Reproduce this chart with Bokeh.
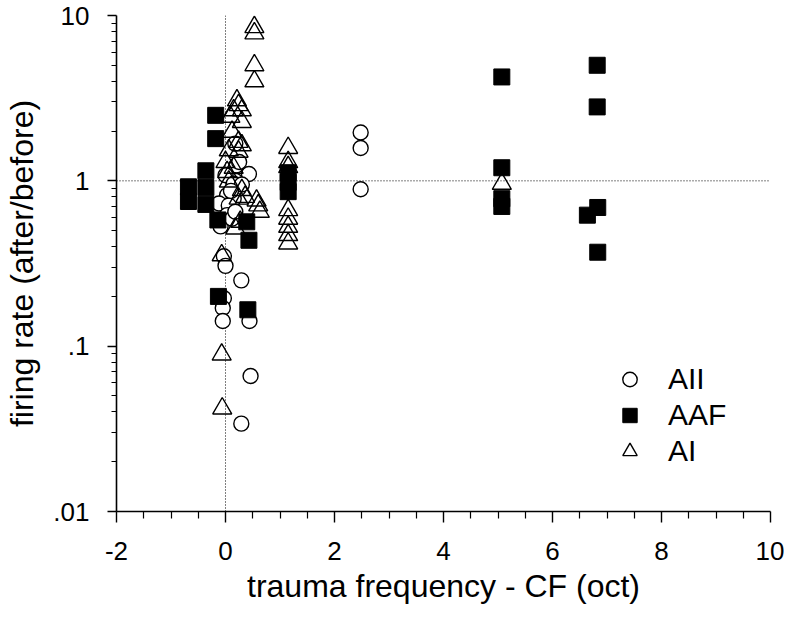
from bokeh.plotting import figure
from bokeh.models import Range1d, FixedTicker, Span, Legend, LegendItem
from bokeh.embed import file_html
from bokeh.resources import INLINE

# ---- data ----
aii_x = [2.48, 2.48, 2.48, 0.43, 0.20, 0.18, 0.24, 0.03, 0.15, 0.18, 0.00, 0.15,
         -0.12, 0.06, -0.09, 0.03, 0.12, 0.18, 0.30, 0.25, 0.10,
         -0.03, 0.00, 0.29, -0.03, -0.05, -0.05, 0.44, 0.46, 0.29]
aii_y = [1.96, 1.58, 0.89, 1.10, 1.24, 1.00, 0.90, 0.82, 0.78, 1.68, 1.08, 0.96,
         0.73, 0.71, 0.53, 0.62, 0.59, 0.65, 0.95, 1.30, 0.87,
         0.35, 0.306, 0.25, 0.195, 0.17, 0.142, 0.142, 0.066, 0.034]

aaf_x = [5.07, 6.82, 6.82, 5.07, 5.07, 5.07, 6.64, 6.83, 6.83,
         1.15, 1.15, 1.15, -0.18, -0.18, -0.68, -0.68, -0.36, -0.36, -0.36,
         -0.14, 0.39, 0.43, -0.13, 0.41]
aaf_y = [4.25, 5.0, 2.8, 1.2, 0.78, 0.70, 0.62, 0.69, 0.37,
         1.12, 0.98, 0.86, 2.49, 1.80, 0.92, 0.75, 1.15, 0.91, 0.72,
         0.58, 0.565, 0.437, 0.20, 0.166]

ai_x = [0.53, 0.53, 0.53, 0.53,
        0.21, 0.24, 0.30, 0.15, 0.30, 0.09, 0.12, 0.24, 0.30, 0.06, 0.24, 0.03,
        0.06, 0.24, 0.30, 0.36, 0.27, 0.18, 0.00, 0.15,
        0.57, 0.60, 0.63,
        1.15, 1.15, 1.15, 1.15, 1.15, 1.15, 1.15, 1.15,
        5.07, -0.07, -0.07, -0.06]
ai_y = [8.5, 7.8, 5.0, 4.0,
        3.07, 2.87, 2.67, 2.67, 2.27, 2.44, 1.98, 1.72, 1.64, 1.53, 1.50, 1.13,
        0.99, 0.78, 0.88, 0.80, 0.565, 0.515, 1.30, 1.20,
        0.76, 0.71, 0.65,
        1.58, 1.30, 1.21, 0.665, 0.59, 0.527, 0.47, 0.418,
        0.96, 0.355, 0.089, 0.042]

x_ticks = [-2, 0, 2, 4, 6, 8, 10]
x_tick_labels = ["-2", "0", "2", "4", "6", "8", "10"]
x_minor = [-1.5, -1, -0.5, 0.5, 1, 1.5, 2.5, 3, 3.5, 4.5, 5, 5.5, 6.5, 7, 7.5, 8.5, 9, 9.5]
y_ticks = [0.01, 0.1, 1, 10]
y_tick_labels = [".01", ".1", "1", "10"]
y_minor = [k * d for d in (0.01, 0.1, 1) for k in range(2, 10)]

FONT = "Liberation Sans"

p = figure(x_range=Range1d(-2, 10), y_range=Range1d(0.01, 10), y_axis_type="log",
           width=784, height=610,
           min_border_left=116, min_border_right=14, min_border_top=15, min_border_bottom=99,
           output_backend="svg", toolbar_location=None)
p.outline_line_color = None
p.grid.visible = False
p.background_fill_color = "white"

p.add_layout(Span(location=1, dimension="width", line_dash="1 2", line_color="black",
                  line_width=1, level="underlay"))
p.add_layout(Span(location=0, dimension="height", line_dash="1 2", line_color="black",
                  line_width=1, level="underlay"))

r_aii = p.scatter(aii_x, aii_y, marker="circle", size=15, fill_color="white",
                  line_color="black", line_width=1.4)
r_aaf = p.scatter(aaf_x, aaf_y, marker="square", size=16, fill_color="black",
                  line_color="black", line_width=1)
r_ai = p.scatter(ai_x, ai_y, marker="triangle", size=19, fill_color="white",
                 fill_alpha=0.0, line_color="black", line_width=1.4)

xa = p.xaxis[0]
xa.ticker = FixedTicker(ticks=x_ticks, minor_ticks=x_minor)
xa.major_label_overrides = dict(zip(x_ticks, x_tick_labels))
ya = p.yaxis[0]
ya.ticker = FixedTicker(ticks=y_ticks, minor_ticks=y_minor)
ya.major_label_overrides = dict(zip(y_ticks, y_tick_labels))

xa.axis_label = "trauma frequency - CF (oct)"
ya.axis_label = "firing rate (after/before)"
for ax in (xa, ya):
    ax.axis_line_width = 1.6
    ax.major_tick_line_width = 1.4
    ax.minor_tick_line_width = 1.2
    ax.major_tick_in = 0
    ax.minor_tick_in = 0
    ax.major_label_text_font = FONT
    ax.major_label_text_font_size = "26px"
    ax.axis_label_text_font = FONT
    ax.axis_label_text_font_size = "32px"
    ax.axis_label_text_font_style = "normal"
    ax.axis_line_color = "black"
    ax.major_label_text_color = "black"
    ax.axis_label_text_color = "black"
xa.major_tick_out = 11
xa.minor_tick_out = 7
xa.major_label_standoff = 19
xa.axis_label_standoff = 5
ya.major_tick_out = 9
ya.minor_tick_out = 5
ya.major_label_standoff = 18
ya.axis_label_standoff = 10

legend = Legend(items=[LegendItem(label="AII", renderers=[r_aii]),
                       LegendItem(label="AAF", renderers=[r_aaf]),
                       LegendItem(label="AI", renderers=[r_ai])],
                location=(491, 42), padding=0, margin=0, spacing=0,
                glyph_width=45, glyph_height=36, label_height=36,
                label_standoff=16, label_text_font=FONT, label_text_font_size="30px",
                label_text_color="black",
                border_line_alpha=0, background_fill_alpha=0)
p.add_layout(legend)

open("out.html", "w").write(file_html(p, INLINE))
